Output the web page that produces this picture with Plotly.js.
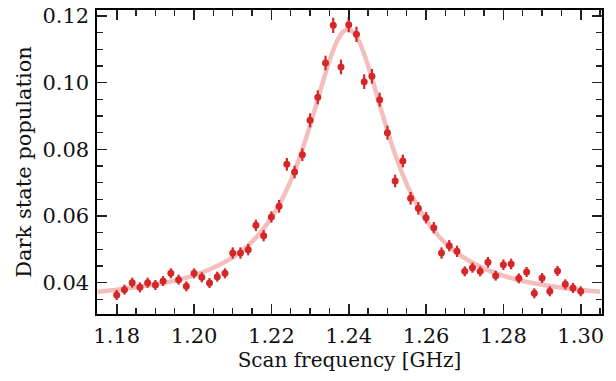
<!DOCTYPE html>
<html><head><meta charset="utf-8">
<script src="https://cdn.plot.ly/plotly-3.0.1.min.js"></script>
<style>html,body{margin:0;padding:0;background:#fff}#chart{width:616px;height:381px}</style>
</head><body><div id="chart"></div>
<script>
// Measured data (scan frequency in GHz, dark state population)
const freq = [1.180,1.182,1.184,1.186,1.188,1.190,1.192,1.194,1.196,1.198,
              1.200,1.202,1.204,1.206,1.208,1.210,1.212,1.214,1.216,1.218,
              1.220,1.222,1.224,1.226,1.228,1.230,1.232,1.234,1.236,1.238,
              1.240,1.242,1.244,1.246,1.248,1.250,1.252,1.254,1.256,1.258,
              1.260,1.262,1.264,1.266,1.268,1.270,1.272,1.274,1.276,1.278,
              1.280,1.282,1.284,1.286,1.288,1.290,1.292,1.294,1.296,1.298,1.300];
const population = [0.0363,0.0379,0.0400,0.0386,0.0400,0.0393,0.0405,0.0428,0.0409,0.0389,
                    0.0428,0.0416,0.0399,0.0418,0.0428,0.0489,0.0489,0.0499,0.0572,0.0541,
                    0.0597,0.0629,0.0755,0.0732,0.0784,0.0887,0.0956,0.1059,0.1172,0.1047,
                    0.1174,0.1145,0.1003,0.1019,0.0949,0.0850,0.0705,0.0765,0.0653,0.0623,
                    0.0595,0.0565,0.0489,0.0511,0.0494,0.0434,0.0445,0.0434,0.0461,0.0421,
                    0.0454,0.0456,0.0413,0.0432,0.0368,0.0414,0.0374,0.0435,0.0395,0.0384,0.0374];
const popError = [0.0015,0.0015,0.0015,0.0015,0.0015,0.0015,0.0015,0.0015,0.0015,0.0015,
                  0.0015,0.0015,0.0015,0.0015,0.0015,0.0017,0.0017,0.0017,0.0017,0.0017,
                  0.0017,0.0019,0.0019,0.0019,0.0019,0.0021,0.0021,0.0022,0.0023,0.0022,
                  0.0023,0.0023,0.0022,0.0022,0.0021,0.0021,0.0019,0.0019,0.0019,0.0019,
                  0.0017,0.0017,0.0017,0.0017,0.0017,0.0015,0.0015,0.0015,0.0016,0.0015,
                  0.0016,0.0016,0.0015,0.0015,0.0015,0.0015,0.0015,0.0015,0.0015,0.0015,0.0015];
// Fit curve
const fitFreq = [1.175,1.180,1.185,1.190,1.195,1.200,1.205,1.210,1.214,1.218,
                 1.222,1.225,1.228,1.231,1.233,1.235,1.237,1.2385,1.2398,1.241,
                 1.2425,1.2445,1.2465,1.2485,1.2515,1.2545,1.2575,1.2615,1.2655,1.2695,
                 1.275,1.280,1.285,1.290,1.295,1.300,1.305];
const fitPop = [0.0373,0.0379,0.0386,0.0395,0.0406,0.0422,0.0445,0.0476,0.0512,0.0562,
                0.0634,0.0706,0.0799,0.0910,0.0990,0.1066,0.1125,0.1152,0.1160,0.1153,
                0.1128,0.1069,0.0994,0.0914,0.0802,0.0709,0.0636,0.0564,0.0513,0.0477,
                0.0442,0.0421,0.0405,0.0394,0.0385,0.0378,0.0373];
const xTickVals = [1.18,1.20,1.22,1.24,1.26,1.28,1.30];
const xTickText = ['1.18','1.20','1.22','1.24','1.26','1.28','1.30'];
const yTickVals = [0.04,0.06,0.08,0.10,0.12];
const yTickText = ['0.04','0.06','0.08','0.10','0.12'];

const red = '#d62728';
const font = {family: 'DejaVu Serif, serif', size: 21, color: '#111'};
const xTitleFont = {family: 'DejaVu Serif, serif', size: 20, color: '#111'};

const traces = [
  {x: fitFreq, y: fitPop, mode: 'lines', type: 'scatter',
   line: {color: 'rgba(214,39,40,0.3)', width: 4.5, shape: 'spline', smoothing: 1.0},
   hoverinfo: 'skip', showlegend: false},
  {x: freq, y: population, mode: 'markers', type: 'scatter',
   marker: {color: red, size: 7},
   error_y: {type: 'data', array: popError, visible: true, color: red, thickness: 2.2, width: 0},
   showlegend: false}
];

const axisCommon = {
  showline: true, linecolor: '#000', linewidth: 1.6, mirror: 'ticks',
  ticks: 'inside', ticklen: 10, tickwidth: 1.6, tickcolor: '#222',
  showgrid: false, zeroline: false, tickfont: font,
  minor: {ticks: 'inside', ticklen: 6, tickwidth: 1.3, tickcolor: '#222', showgrid: false}
};

const layout = {
  width: 616, height: 381,
  font: font,
  margin: {l: 97, r: 14, t: 10, b: 67},
  paper_bgcolor: '#fff', plot_bgcolor: '#fff',
  showlegend: false,
  xaxis: Object.assign({}, axisCommon, {
    range: [1.1749, 1.3055], tickvals: xTickVals, ticktext: xTickText,
    minor: Object.assign({}, axisCommon.minor, {dtick: 0.005, tick0: 1.18}),
    ticklabelstandoff: 2,
    title: {text: 'Scan frequency [GHz]', font: xTitleFont, standoff: 4}
  }),
  yaxis: Object.assign({}, axisCommon, {
    range: [0.0306, 0.1218], tickvals: yTickVals, ticktext: yTickText,
    minor: Object.assign({}, axisCommon.minor, {dtick: 0.005, tick0: 0.04}),
    ticklabelstandoff: 2,
    title: {text: 'Dark state population', font: font, standoff: 5}
  })
};

Plotly.newPlot('chart', traces, layout, {staticPlot: true, displayModeBar: false});
</script>
</body></html>
